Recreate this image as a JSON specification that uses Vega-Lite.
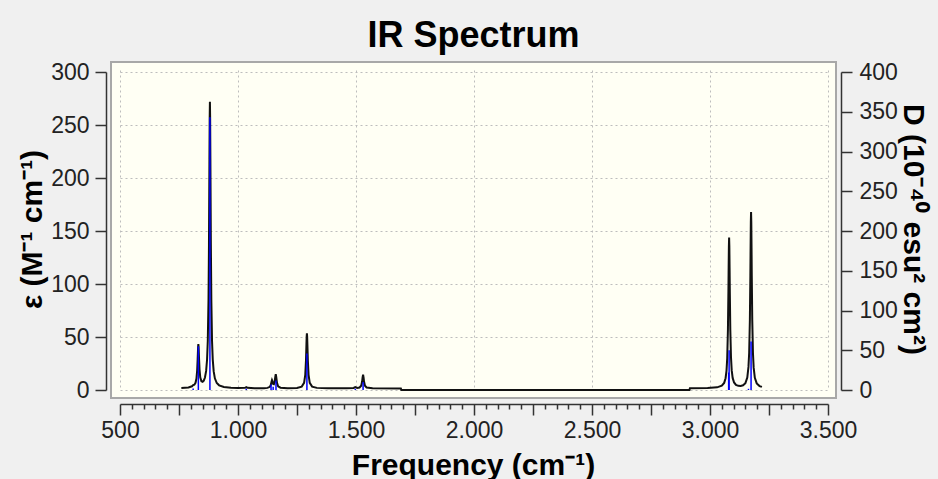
{
  "$schema": "https://vega.github.io/schema/vega-lite/v6.json",
  "autosize": {"type": "none"},
  "padding": {"left": 111, "top": 62, "right": 102, "bottom": 81},
  "width": 725,
  "height": 336,
  "background": "#f0f0f0",
  "title": {"text": "IR Spectrum", "font": "Liberation Sans", "fontSize": 36, "fontWeight": "bold", "color": "#000000", "anchor": "middle", "frame": "group", "baseline": "alphabetic", "offset": 16, "dy": 38},
  "config": {
    "view": {"fill": "#fffff4", "stroke": "#a8a8a8", "strokeWidth": 2},
    "axis": {"labelFont": "Liberation Sans", "labelFontSize": 23, "labelColor": "#222222", "titleFont": "Liberation Sans", "titleFontSize": 30, "titleFontWeight": "bold", "titleColor": "#000000", "domainColor": "#333333", "tickColor": "#333333", "domainWidth": 1.5, "tickWidth": 1.5, "gridColor": "#bdbdbd", "gridDash": [2, 3], "gridWidth": 1}
  },
  "datasets": {
    "curve": [
      {"freq": 760, "eps": 1.9}, {"freq": 790, "eps": 2.4}, {"freq": 805, "eps": 3.5}, {"freq": 810, "eps": 4.6}, {"freq": 815, "eps": 5.0}, {"freq": 820, "eps": 6.8}, {"freq": 824, "eps": 10.8}, {"freq": 827, "eps": 18.6}, {"freq": 829, "eps": 28.7}, {"freq": 831, "eps": 40.8}, {"freq": 832, "eps": 43.3}, {"freq": 833, "eps": 40.9}, {"freq": 835, "eps": 29.1}, {"freq": 837, "eps": 19.3}, {"freq": 840, "eps": 12.0}, {"freq": 845, "eps": 8.3}, {"freq": 850, "eps": 7.8}, {"freq": 855, "eps": 8.9}, {"freq": 860, "eps": 11.8}, {"freq": 865, "eps": 18.0}, {"freq": 869, "eps": 29}, {"freq": 872, "eps": 46.4}, {"freq": 875, "eps": 85}, {"freq": 877, "eps": 137}, {"freq": 879, "eps": 218}, {"freq": 880, "eps": 256}, {"freq": 881, "eps": 272}, {"freq": 882, "eps": 256}, {"freq": 883, "eps": 218}, {"freq": 885, "eps": 137}, {"freq": 887, "eps": 85}, {"freq": 890, "eps": 46}, {"freq": 893, "eps": 28.7}, {"freq": 897, "eps": 17.5}, {"freq": 902, "eps": 11}, {"freq": 910, "eps": 6.6}, {"freq": 920, "eps": 4.4}, {"freq": 940, "eps": 2.8}, {"freq": 970, "eps": 2.1}, {"freq": 1000, "eps": 1.8}, {"freq": 1030, "eps": 2.1}, {"freq": 1035, "eps": 2.7}, {"freq": 1040, "eps": 2.1}, {"freq": 1070, "eps": 1.6}, {"freq": 1110, "eps": 1.7}, {"freq": 1125, "eps": 2.0}, {"freq": 1135, "eps": 3.0}, {"freq": 1139, "eps": 4.7}, {"freq": 1142, "eps": 7.7}, {"freq": 1144, "eps": 9.3}, {"freq": 1146, "eps": 8.1}, {"freq": 1149, "eps": 5.7}, {"freq": 1152, "eps": 5.5}, {"freq": 1155, "eps": 7.4}, {"freq": 1158, "eps": 12.4}, {"freq": 1160, "eps": 14.9}, {"freq": 1162, "eps": 12.3}, {"freq": 1165, "eps": 6.9}, {"freq": 1170, "eps": 3.5}, {"freq": 1180, "eps": 2.2}, {"freq": 1210, "eps": 1.7}, {"freq": 1250, "eps": 2.0}, {"freq": 1270, "eps": 3.2}, {"freq": 1280, "eps": 6.7}, {"freq": 1285, "eps": 14.3}, {"freq": 1288, "eps": 27.5}, {"freq": 1290, "eps": 43.1}, {"freq": 1291, "eps": 50.5}, {"freq": 1292, "eps": 53.5}, {"freq": 1293, "eps": 50.5}, {"freq": 1294, "eps": 43.1}, {"freq": 1296, "eps": 27.5}, {"freq": 1299, "eps": 14.3}, {"freq": 1304, "eps": 6.7}, {"freq": 1314, "eps": 3.2}, {"freq": 1334, "eps": 2.0}, {"freq": 1380, "eps": 1.6}, {"freq": 1460, "eps": 1.6}, {"freq": 1490, "eps": 1.9}, {"freq": 1497, "eps": 2.7}, {"freq": 1505, "eps": 2.0}, {"freq": 1515, "eps": 2.4}, {"freq": 1522, "eps": 4.1}, {"freq": 1526, "eps": 8.0}, {"freq": 1528, "eps": 11.9}, {"freq": 1530, "eps": 14.5}, {"freq": 1532, "eps": 11.9}, {"freq": 1534, "eps": 8.0}, {"freq": 1538, "eps": 4.1}, {"freq": 1545, "eps": 2.4}, {"freq": 1570, "eps": 1.6}, {"freq": 1690, "eps": 1.5}, {"freq": 1692, "eps": 0.1}, {"freq": 2000, "eps": 0}, {"freq": 2500, "eps": 0}, {"freq": 2913, "eps": 0.1}, {"freq": 2915, "eps": 1.6}, {"freq": 2990, "eps": 1.8}, {"freq": 3030, "eps": 2.5}, {"freq": 3050, "eps": 4.0}, {"freq": 3060, "eps": 6.7}, {"freq": 3066, "eps": 11.1}, {"freq": 3070, "eps": 18.3}, {"freq": 3073, "eps": 30.1}, {"freq": 3076, "eps": 57.1}, {"freq": 3078, "eps": 92.6}, {"freq": 3079, "eps": 115.3}, {"freq": 3080, "eps": 135.3}, {"freq": 3081, "eps": 143.8}, {"freq": 3082, "eps": 135.4}, {"freq": 3083, "eps": 115.4}, {"freq": 3084, "eps": 92.7}, {"freq": 3086, "eps": 57.2}, {"freq": 3089, "eps": 30.5}, {"freq": 3092, "eps": 18.5}, {"freq": 3096, "eps": 11.4}, {"freq": 3102, "eps": 7.1}, {"freq": 3110, "eps": 4.8}, {"freq": 3120, "eps": 3.9}, {"freq": 3130, "eps": 3.8}, {"freq": 3140, "eps": 4.4}, {"freq": 3150, "eps": 6.5}, {"freq": 3158, "eps": 11.7}, {"freq": 3163, "eps": 21.8}, {"freq": 3166, "eps": 35.1}, {"freq": 3169, "eps": 66.5}, {"freq": 3171, "eps": 107.8}, {"freq": 3172, "eps": 134.6}, {"freq": 3173, "eps": 158}, {"freq": 3174, "eps": 167.8}, {"freq": 3175, "eps": 158}, {"freq": 3176, "eps": 134.6}, {"freq": 3177, "eps": 107.8}, {"freq": 3179, "eps": 66.4}, {"freq": 3182, "eps": 34.9}, {"freq": 3185, "eps": 21.1}, {"freq": 3190, "eps": 11.5}, {"freq": 3198, "eps": 6.2}, {"freq": 3210, "eps": 3.7}, {"freq": 3220, "eps": 2.9}
    ],
    "sticks": [
      {"freq": 810, "D": 2}, {"freq": 832, "D": 55}, {"freq": 881, "D": 343}, {"freq": 1035, "D": 1.5}, {"freq": 1140, "D": 7}, {"freq": 1149, "D": 4}, {"freq": 1161, "D": 12}, {"freq": 1292, "D": 46}, {"freq": 1497, "D": 1.5}, {"freq": 1530, "D": 10}, {"freq": 3079, "D": 22}, {"freq": 3081, "D": 50}, {"freq": 3163, "D": 1.5}, {"freq": 3174, "D": 61}
    ]
  },
  "encoding": {
    "x": {
      "field": "freq", "type": "quantitative",
      "scale": {"domain": [500, 3500], "range": [9, 717], "nice": false, "zero": false},
      "axis": {
        "orient": "bottom", "offset": 6,
        "values": [500,550,600,650,700,750,800,850,900,950,1000,1050,1100,1150,1200,1250,1300,1350,1400,1450,1500,1550,1600,1650,1700,1750,1800,1850,1900,1950,2000,2050,2100,2150,2200,2250,2300,2350,2400,2450,2500,2550,2600,2650,2700,2750,2800,2850,2900,2950,3000,3050,3100,3150,3200,3250,3300,3350,3400,3450,3500],
        "labelExpr": "datum.value % 500 === 0 ? replace(format(datum.value, ','), ',', '.') : ''",
        "labelOverlap": false, "labelFlush": false, "labelPadding": 4,
        "tickSize": {"condition": {"test": "datum.value % 250 === 0", "value": 11}, "value": 5},
        "grid": true,
        "gridOpacity": {"condition": {"test": "datum.value % 500 === 0", "value": 1}, "value": 0},
        "title": "Frequency (cm⁻¹)", "titleX": 362, "titleY": 70, "titleAlign": "center", "titleBaseline": "alphabetic", "titleAngle": 0
      }
    }
  },
  "layer": [
    {
      "data": {"name": "curve"},
      "mark": {"type": "line", "color": "#111111", "strokeWidth": 2},
      "encoding": {
        "y": {
          "field": "eps", "type": "quantitative",
          "scale": {"domain": [0, 300], "range": [328, 10], "nice": false, "zero": false},
          "axis": {
            "orient": "left", "offset": 5, "values": [0, 50, 100, 150, 200, 250, 300],
            "tickSize": 11, "labelPadding": 6, "grid": true,
            "title": "ε (M⁻¹ cm⁻¹)", "titleAngle": -90, "titleX": -65, "titleY": 167, "titleAlign": "center", "titleBaseline": "alphabetic"
          }
        }
      }
    },
    {
      "data": {"name": "sticks"},
      "mark": {"type": "rule", "color": "#0000ff", "strokeWidth": 1.5},
      "encoding": {
        "y": {
          "field": "D", "type": "quantitative",
          "scale": {"domain": [0, 400], "range": [328, 10], "nice": false, "zero": false},
          "axis": {
            "orient": "right", "offset": 5, "values": [0, 50, 100, 150, 200, 250, 300, 350, 400],
            "tickSize": 11, "labelPadding": 7, "grid": false,
            "title": "D (10⁻⁴⁰ esu² cm²)", "titleAngle": 90, "titleX": 62, "titleY": 167, "titleAlign": "center", "titleBaseline": "alphabetic"
          }
        },
        "y2": {"datum": 0}
      }
    }
  ],
  "resolve": {"scale": {"y": "independent"}, "axis": {"y": "independent"}}
}
